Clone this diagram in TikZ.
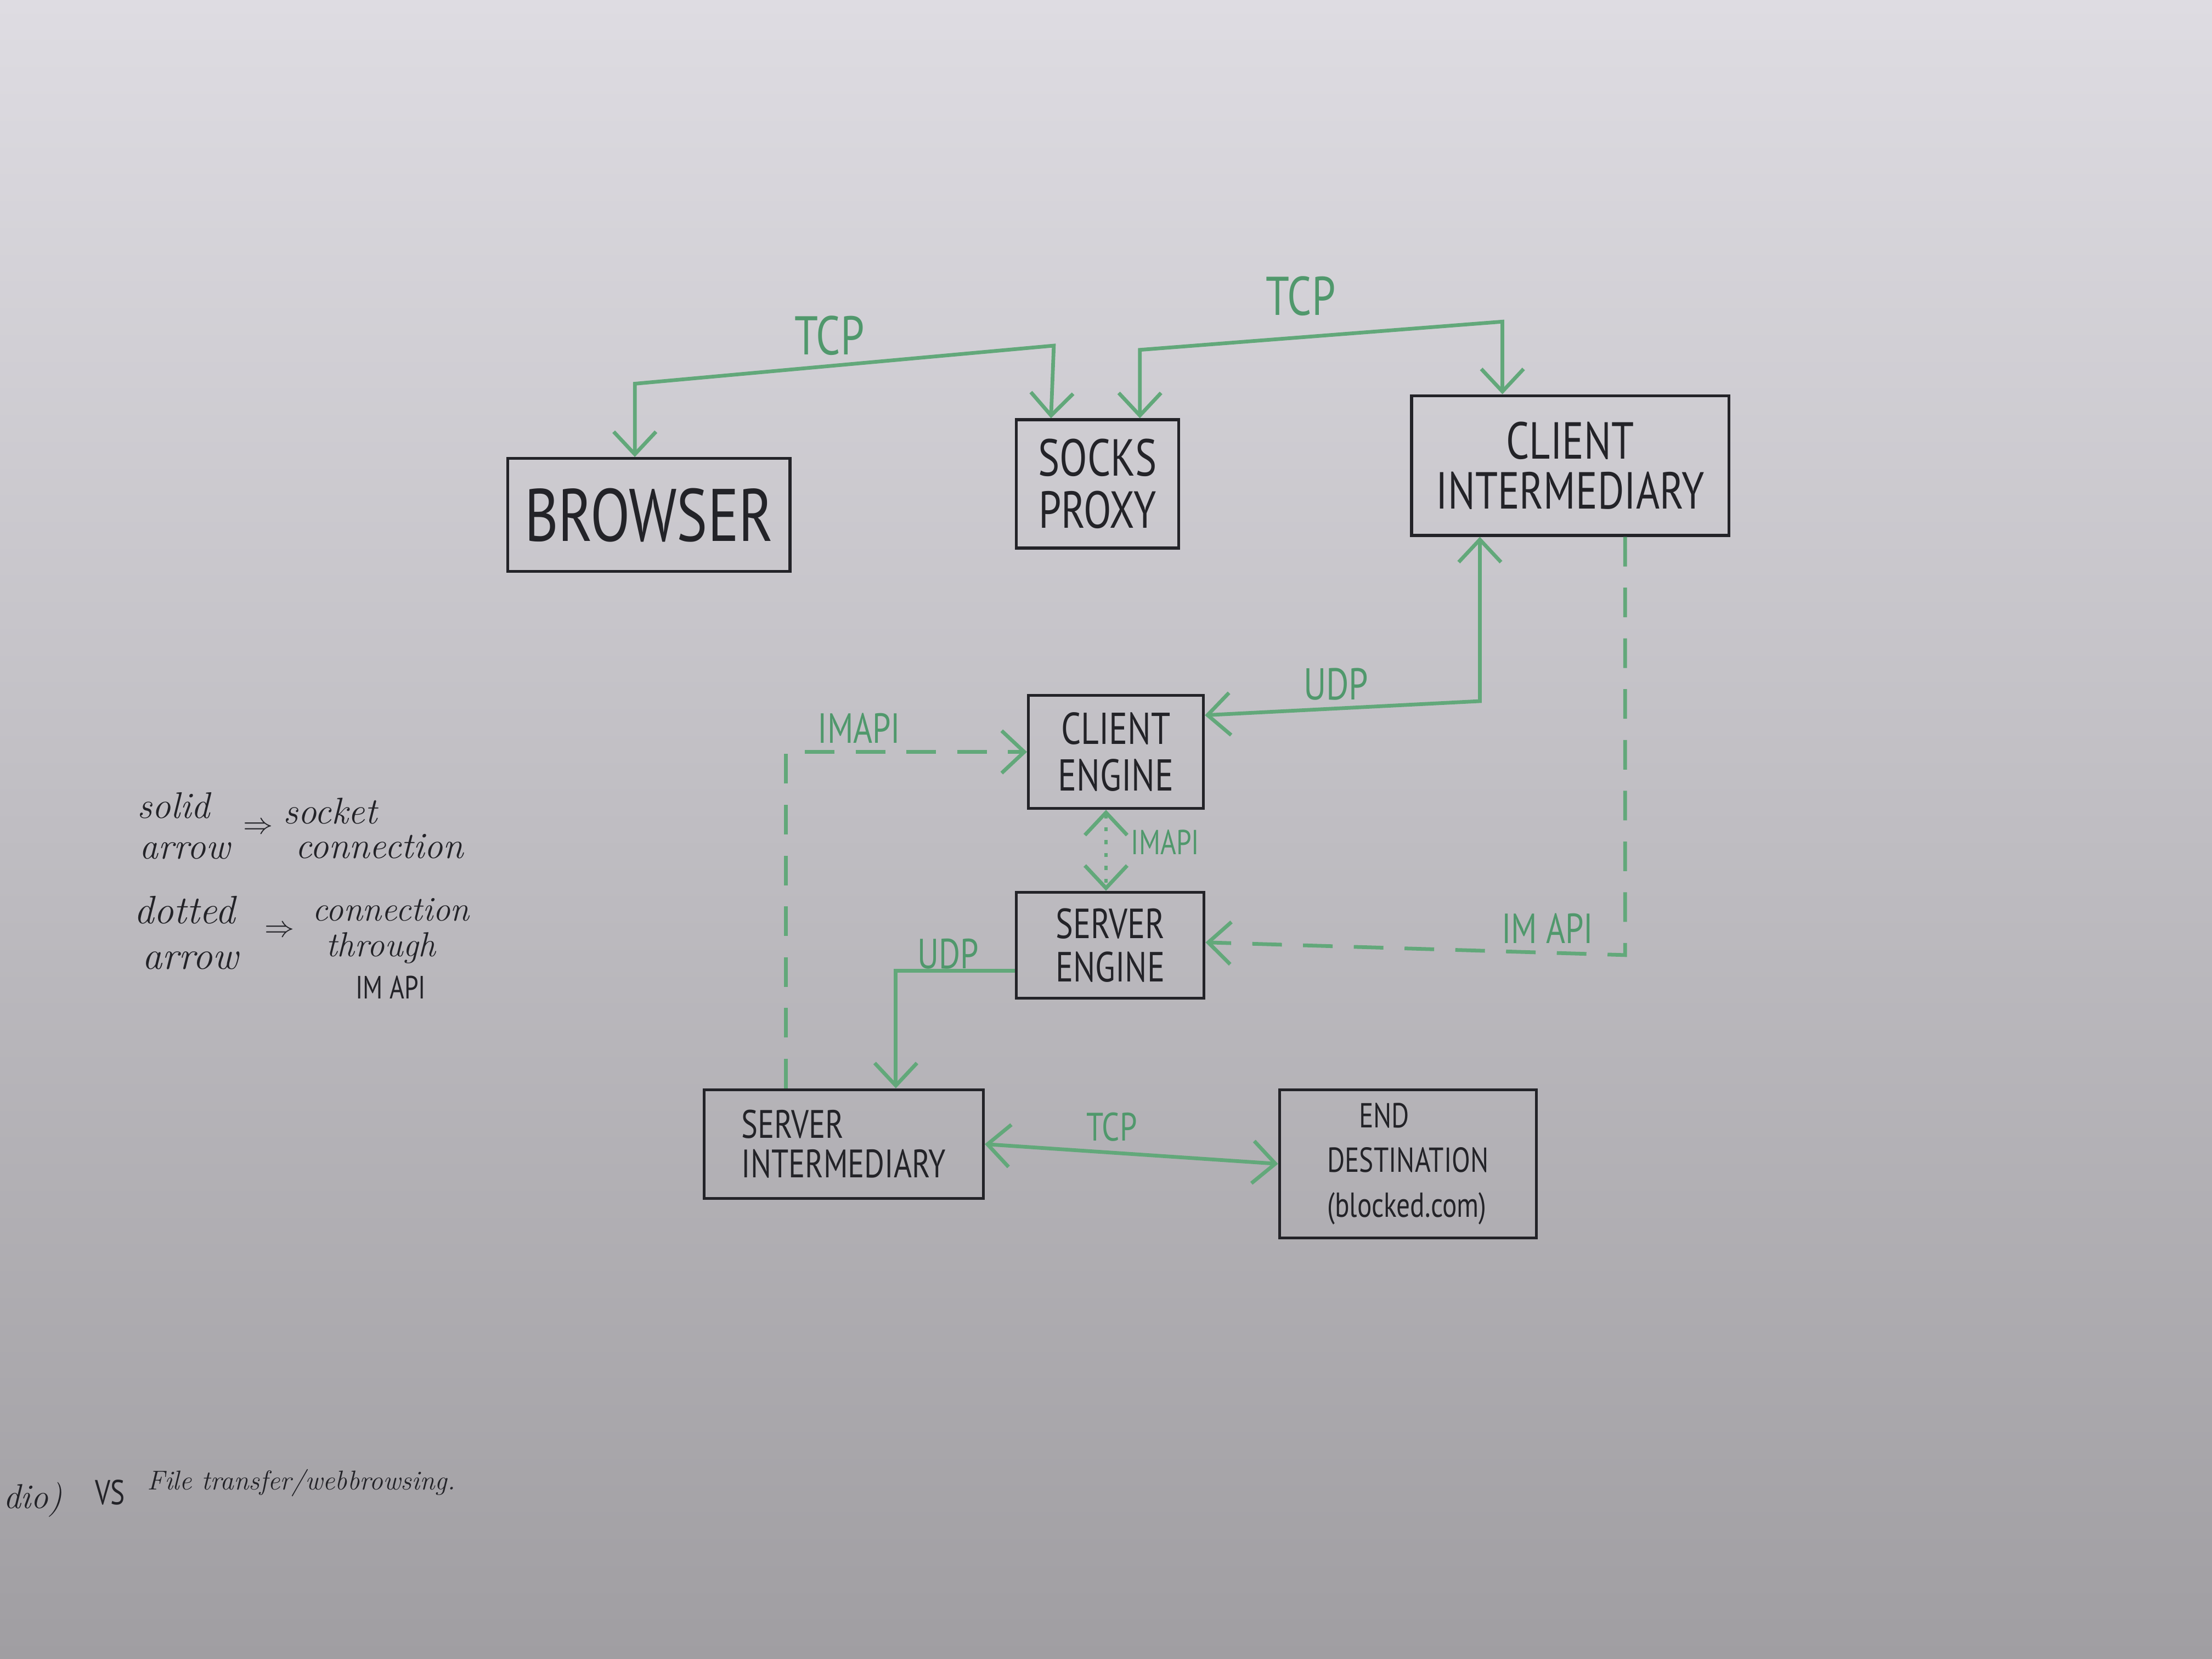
\documentclass[tikz,border=0pt]{standalone}
\usepackage{fontspec}
\newfontfamily\hand[FakeStretch=0.78]{PT Sans}
\usetikzlibrary{arrows.meta,calc}
\definecolor{gr}{RGB}{98,168,122}
\definecolor{grt}{RGB}{80,152,108}
\definecolor{ink}{RGB}{35,35,40}
\definecolor{bgtop}{RGB}{222,220,226}
\definecolor{bgmid}{RGB}{208,206,211}
\definecolor{bgbot}{RGB}{160,158,162}
\begin{document}
\begin{tikzpicture}[x=0.02cm,y=-0.02cm,
  box/.style={draw=ink,line width=1.2pt,text=ink,inner sep=0pt,align=center},
  gl/.style={draw=gr,line width=1.5pt,>={Straight Barb[length=3.2mm,width=6mm,line width=1.5pt]}},
  gdash/.style={gl,dash pattern=on 0.42cm off 0.3cm},
  gdot/.style={gl,line width=1.2pt,dash pattern=on 1.6pt off 3.6pt},
  glab/.style={text=grt,inner sep=0pt},
  leg/.style={text=ink,inner sep=0pt}
]
% background
\shade[top color=bgtop,middle color=bgmid,bottom color=bgbot] (0,0) rectangle (1568,1176);
\useasboundingbox (0,0) rectangle (1568,1176);

% boxes
\node[box,minimum width=4cm,minimum height=1.6cm,font=\hand\fontsize{30}{32}\selectfont] (browser) at (460,365) {BROWSER};
\node[box,minimum width=2.3cm,minimum height=1.82cm,font=\hand\fontsize{21}{21}\selectfont] (socks) at (778,343) {SOCKS\\PROXY};
\node[box,minimum width=4.5cm,minimum height=1.98cm,font=\hand\fontsize{21}{20}\selectfont] (ci) at (1113,330) {CLIENT\\INTERMEDIARY};
\node[box,minimum width=2.48cm,minimum height=1.6cm,font=\hand\fontsize{18}{19}\selectfont] (ce) at (791,533) {CLIENT\\ENGINE};
\node[box,minimum width=2.66cm,minimum height=1.5cm,font=\hand\fontsize{17}{17.5}\selectfont] (se) at (787,670) {SERVER\\ENGINE};
\node[box,align=left,minimum width=3.96cm,minimum height=1.54cm,font=\hand\fontsize{16}{16}\selectfont] (si) at (598,811) {SERVER\\INTERMEDIARY};
\node[box,align=left,minimum width=3.64cm,minimum height=2.1cm,font=\hand\fontsize{14}{18}\selectfont] (ed) at (998,825) {\hspace*{0.45cm}END\\DESTINATION\\(blocked.com)};

% connectors
\draw[gl,<->] ($(browser.north)+(-10,0)$) -- (450,272) -- (747,245) -- ($(socks.north)+(-33,0)$);
\draw[gl,<->] ($(socks.north)+(30,0)$) -- (808,248) -- (1065,228) -- ($(ci.north)+(-48,0)$);
\draw[gl,<->] ($(ce.east)+(0,-26)$) -- (1049,497) -- ($(ci.south)+(-64,0)$);
\draw[gdash,->] ($(si.north)+(-41,0)$) |- (ce.west);
\draw[gdot,<->] ($(ce.south)+(-7,0)$) -- ($(se.north)+(-3,0)$);
\draw[gdash,->] ($(ci.south)+(39,0)$) -- (1152,677) -- ($(se.east)+(0,-2)$);
\draw[gl,->] ($(se.west)+(0,18)$) -| ($(si.north)+(37,0)$);
\draw[gl,<->] (si.east) -- (ed.west);

% connector labels
\node[glab,font=\hand\fontsize{22}{22}\selectfont] (tcp1) at (588,238) {TCP};
\node[glab,font=\hand\fontsize{22}{22}\selectfont] (tcp2) at (922,210) {TCP};
\node[glab,font=\hand\fontsize{18}{18}\selectfont] (udp1) at (947,485) {UDP};
\node[glab,font=\hand\fontsize{17}{17}\selectfont] (imapi1) at (609,516) {IMAPI};
\node[glab,font=\hand\fontsize{14}{14}\selectfont] (imapi2) at (826,597) {IMAPI};
\node[glab,font=\hand\fontsize{17}{17}\selectfont] (imapi3) at (1097,658) {IM API};
\node[glab,font=\hand\fontsize{17}{17}\selectfont] (udp2) at (672,676) {UDP};
\node[glab,font=\hand\fontsize{16}{16}\selectfont] (tcp3) at (788,799) {TCP};

% legend
\node[leg,font=\itshape\fontsize{15}{15}\selectfont] (l1) at (123,571) {solid};
\node[leg,font=\itshape\fontsize{15}{15}\selectfont] (l2) at (131,603) {arrow};
\node[leg,font=\fontsize{13}{13}\selectfont] (l3) at (183,587) {$\Rightarrow$};
\node[leg,font=\itshape\fontsize{15}{15}\selectfont] (l4) at (234,575) {socket};
\node[leg,font=\itshape\fontsize{15}{15}\selectfont] (l5) at (269,600) {connection};
\node[leg,font=\itshape\fontsize{16}{16}\selectfont] (l6) at (131,645) {dotted};
\node[leg,font=\itshape\fontsize{16}{16}\selectfont] (l7) at (135,681) {arrow};
\node[leg,font=\fontsize{13}{13}\selectfont] (l8) at (198,660) {$\Rightarrow$};
\node[leg,font=\itshape\fontsize{14}{14}\selectfont] (l9) at (277,645) {connection};
\node[leg,font=\itshape\fontsize{14}{14}\selectfont] (l10) at (270,672) {through};
\node[leg,font=\hand\fontsize{13}{13}\selectfont] (l11) at (277,700) {IM API};

% bottom note
\node[leg,anchor=west,font=\itshape\fontsize{14}{14}\selectfont] (b1) at (2,1063) {dio)};
\node[leg,font=\hand\fontsize{14}{14}\selectfont] (b2) at (78,1058) {VS};
\node[leg,anchor=west,font=\itshape\fontsize{11}{11}\selectfont] (b3) at (104,1051) {File transfer/webbrowsing.};
\end{tikzpicture}
\end{document}
